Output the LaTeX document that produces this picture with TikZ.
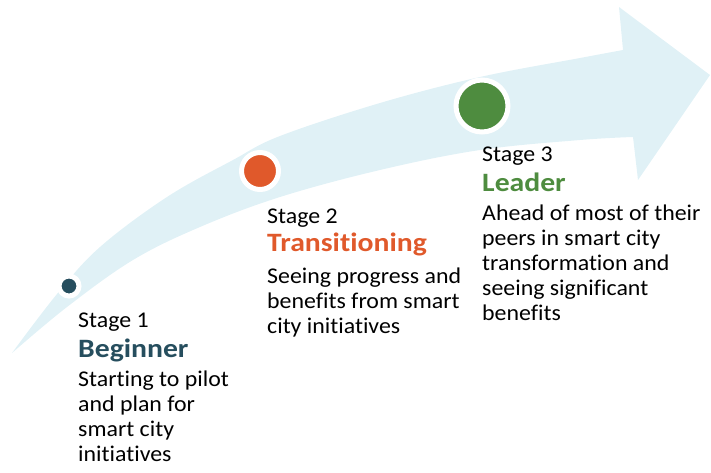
\documentclass[tikz,border=0pt]{standalone}
\usepackage{fontspec}
\setmainfont{Carlito}[FakeStretch=1.06,RawFeature={-liga}]
\newfontfamily\boldfam{Carlito}[FakeStretch=1.12,BoldFont={Carlito Bold},RawFeature={-liga}]
\definecolor{arrowblue}{HTML}{E0F1F6}
\definecolor{tealc}{HTML}{264E5E}
\definecolor{orangec}{HTML}{E0592B}
\definecolor{greenc}{HTML}{4E8C3F}
\tikzset{
  txt/.style={anchor=base west, inner sep=0pt, font=\fontsize{22.5}{25}\selectfont, text=black},
  head/.style={anchor=base west, inner sep=0pt, font=\boldfam\bfseries\fontsize{26.5}{30}\selectfont},
  dot/.style={circle, draw=white, inner sep=0pt},
}
\begin{document}
\begin{tikzpicture}[x=1pt,y=-1pt]
\useasboundingbox (0,0) rectangle (711,472);
% arrow
\fill[arrowblue]
  plot[smooth, tension=0.6] coordinates {(12,353) (57,294) (100,247) (167,197) (233,160) (280,136) (380,103) (480,77) (580,58) (623,50)}
  -- (619,7) -- (710,75) -- (638,180)
  -- plot[smooth, tension=0.6] coordinates {(633,137) (580,140) (480,150) (380,170) (280,197) (200,227) (133,260) (67,307) (12,353)}
  -- cycle;
% stage markers
\node[dot, fill=tealc, line width=5pt, minimum size=20pt] (c1) at (69,286) {};
\node[dot, fill=orangec, line width=5pt, minimum size=37pt] (c2) at (260,171) {};
\node[dot, fill=greenc, line width=5pt, minimum size=52pt] (c3) at (482,106) {};
% stage 1
\node[txt] (s1) at (78,327) {Stage 1};
\node[head, text=tealc] (h1) at (78,357) {Beginner};
\node[txt] (d1a) at (78,386) {Starting to pilot};
\node[txt] (d1b) at (78,411) {and plan for};
\node[txt] (d1c) at (78,436) {smart city};
\node[txt] (d1d) at (78,461) {initiatives};
% stage 2
\node[txt] (s2) at (267,223) {Stage 2};
\node[head, text=orangec] (h2) at (267,251) {Transitioning};
\node[txt] (d2a) at (267,283) {Seeing progress and};
\node[txt] (d2b) at (267,308) {benefits from smart};
\node[txt] (d2c) at (267,333) {city initiatives};
% stage 3
\node[txt] (s3) at (482,161) {Stage 3};
\node[head, text=greenc] (h3) at (482,191) {Leader};
\node[txt] (d3a) at (482,220) {Ahead of most of their};
\node[txt] (d3b) at (482,245) {peers in smart city};
\node[txt] (d3c) at (482,270) {transformation and};
\node[txt] (d3d) at (482,295) {seeing significant};
\node[txt] (d3e) at (482,320) {benefits};
\end{tikzpicture}
\end{document}
